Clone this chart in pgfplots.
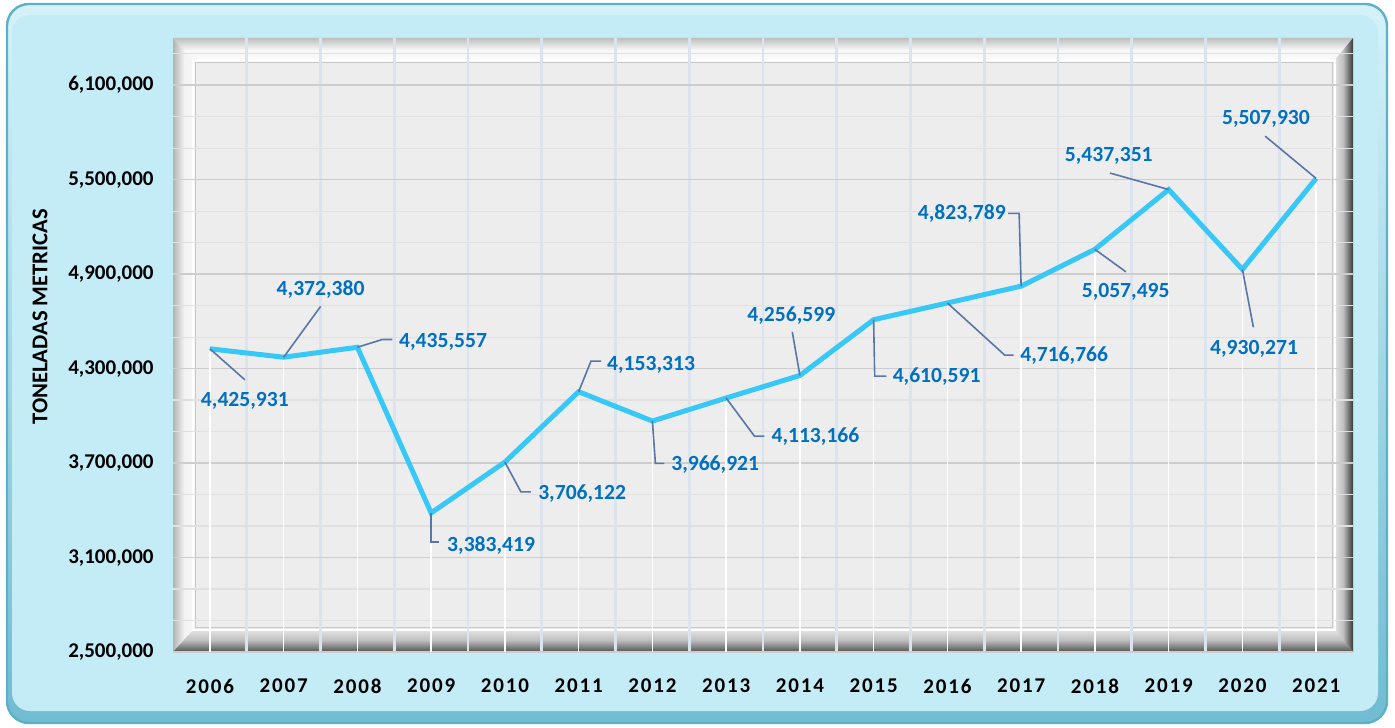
\documentclass[border=0pt]{standalone}
\usepackage{pgfplots}
\pgfplotsset{compat=1.18}
\usepackage{fontspec}
\setmainfont{Carlito}
\newfontfamily\yearfont{Carlito}[LetterSpace=9]
\definecolor{lineblue}{RGB}{56,200,248}
\definecolor{lblblue}{RGB}{0,112,192}
\definecolor{leader}{RGB}{88,118,168}
\definecolor{bgblue}{RGB}{195,236,246}
\definecolor{bgedge}{RGB}{92,176,200}
\definecolor{plotbg}{RGB}{237,237,237}
\definecolor{gridmaj}{RGB}{205,205,205}
\definecolor{gridmin}{RGB}{224,224,224}
\definecolor{vgrid}{RGB}{218,227,238}
\tikzset{lbl/.style={text=lblblue, font=\bfseries\fontsize{10.8}{12}\selectfont, inner sep=0pt, anchor=base, yshift=-3.4pt},
  ldr/.style={draw=leader, line width=0.8pt}}
\begin{document}
\begin{tikzpicture}
\useasboundingbox (0,0) rectangle (697.5pt,363.5pt);
\fill[white] (0,0) rectangle (697.5pt,363.5pt);
% outer frame
\path[top color=bgblue!70!white, bottom color=bgedge!80!bgblue, draw=bgedge, line width=1.2pt, rounded corners=11pt] (3.5pt,2pt) rectangle (693.5pt,361.5pt);
\fill[bgblue, rounded corners=9pt] (6pt,8pt) rectangle (689pt,356pt);
% plot-area bevel
\path[left color=black!30, right color=black!3, middle color=black!5] (86.5pt,344.5pt) -- (86.5pt,37.5pt) -- (97.5pt,49.5pt) -- (97.5pt,332.5pt) -- cycle;
\path[top color=black!25, bottom color=black!2, middle color=black!3] (86.5pt,344.5pt) -- (676.5pt,344.5pt) -- (666.5pt,332.5pt) -- (97.5pt,332.5pt) -- cycle;
\path[left color=black!8, right color=black!78, middle color=black!25] (676.5pt,344.5pt) -- (676.5pt,37.5pt) -- (666.5pt,49.5pt) -- (666.5pt,332.5pt) -- cycle;
\path[top color=black!8, bottom color=black!68, middle color=black!25] (86.5pt,37.5pt) -- (676.5pt,37.5pt) -- (666.5pt,49.5pt) -- (97.5pt,49.5pt) -- cycle;
\fill[plotbg] (97.5pt,49.5pt) rectangle (666.5pt,332.5pt);
\draw[white, line width=0.8pt] (96.5pt,48.5pt) rectangle (667.5pt,333.5pt);
\draw[black!22, line width=0.6pt] (97.8pt,49.8pt) rectangle (666.2pt,332.2pt);
\begin{axis}[
  at={(86.5pt,37.5pt)}, anchor=south west,
  scale only axis, width=590pt, height=307pt,
  xmin=-0.5, xmax=15.5, ymin=2500000, ymax=6400000,
  scaled y ticks=false,
  axis line style={draw=none}, major tick length=0pt, minor tick length=0pt,
  tick style={draw=none},
  xtick={0,...,15},
  xticklabels={2006,2007,2008,2009,2010,2011,2012,2013,2014,2015,2016,2017,2018,2019,2020,2021},
  xticklabel style={font=\yearfont\bfseries\fontsize{10.5}{12}\selectfont, anchor=north, inner sep=0pt},
  xticklabel shift=13.3pt,
  minor xtick={0.5,1.5,...,14.5},
  ytick={2500000,3100000,3700000,4300000,4900000,5500000,6100000},
  yticklabels={{2,500,000},{3,100,000},{3,700,000},{4,300,000},{4,900,000},{5,500,000},{6,100,000}},
  yticklabel style={font=\bfseries\fontsize{10.5}{12}\selectfont, anchor=east, inner sep=0pt},
  yticklabel shift=9.5pt,
  minor ytick={2700000,2900000,3300000,3500000,3900000,4100000,4500000,4700000,5100000,5300000,5700000,5900000,6300000},
  ymajorgrids, yminorgrids, xminorgrids,
  major y grid style={draw=gridmaj, line width=0.8pt},
  minor y grid style={draw=gridmin, line width=0.6pt},
  minor x grid style={draw=vgrid, line width=1.4pt},
  ylabel={TONELADAS METRICAS},
  ylabel style={font=\bfseries\fontsize{11.3}{13}\selectfont, at={(axis description cs:-0.1127,0.546)}, anchor=center, rotate=0},
]
\addplot[white, line width=0.8pt, ycomb] coordinates {
(0,4425931) (1,4372380) (2,4435557) (3,3383419) (4,3706122) (5,4153313) (6,3966921) (7,4113166)
(8,4256599) (9,4610591) (10,4716766) (11,4823789) (12,5057495) (13,5437351) (14,4930271) (15,5507930)};
\addplot[lineblue, line width=2.5pt] coordinates {
(0,4425931) (1,4372380) (2,4435557) (3,3383419) (4,3706122) (5,4153313) (6,3966921) (7,4113166)
(8,4256599) (9,4610591) (10,4716766) (11,4823789) (12,5057495) (13,5437351) (14,4930271) (15,5507930)};
% leaders and labels
\draw[ldr] (axis cs:0,4425931) -- ++(17.5pt,-15.5pt);
\path (axis cs:0,4425931) ++(17.5pt,-25.5pt) node[lbl] {4,425,931};
\draw[ldr] (axis cs:1,4372380) -- ++(18.5pt,25.4pt);
\path (axis cs:1,4372380) ++(18.5pt,34.25pt) node[lbl] {4,372,380};
\draw[ldr] (axis cs:2,4435557) -- ++(12.5pt,3.9pt) -- ++(5pt,0pt);
\path (axis cs:2,4435557) ++(42.85pt,3.05pt) node[lbl] {4,435,557};
\draw[ldr] (axis cs:3,3383419) -- ++(0pt,-14.4pt) -- ++(4pt,0pt);
\path (axis cs:3,3383419) ++(30pt,-16.05pt) node[lbl] {3,383,419};
\draw[ldr] (axis cs:4,3706122) -- ++(8pt,-14.85pt) -- ++(5pt,0pt);
\path (axis cs:4,3706122) ++(38.65pt,-15.5pt) node[lbl] {3,706,122};
\draw[ldr] (axis cs:5,4153313) -- ++(6.2pt,15.3pt) -- ++(5pt,0pt);
\path (axis cs:5,4153313) ++(36.2pt,14.15pt) node[lbl] {4,153,313};
\draw[ldr] (axis cs:6,3966921) -- ++(1.5pt,-21.15pt) -- ++(4.5pt,0pt);
\path (axis cs:6,3966921) ++(31.4pt,-21.15pt) node[lbl] {3,966,921};
\draw[ldr] (axis cs:7,4113166) -- ++(14.15pt,-19.05pt) -- ++(5pt,0pt);
\path (axis cs:7,4113166) ++(44.65pt,-19.05pt) node[lbl] {4,113,166};
\draw[ldr] (axis cs:8,4256599) -- ++(-3.8pt,21.8pt);
\path (axis cs:8,4256599) ++(-4.3pt,30.5pt) node[lbl] {4,256,599};
\draw[ldr] (axis cs:9,4610591) -- ++(0.5pt,-28.2pt) -- ++(5.85pt,0pt);
\path (axis cs:9,4610591) ++(31.5pt,-28.2pt) node[lbl] {4,610,591};
\draw[ldr] (axis cs:10,4716766) -- ++(28.65pt,-26.05pt) -- ++(4.5pt,0pt);
\path (axis cs:10,4716766) ++(58.4pt,-26.05pt) node[lbl] {4,716,766};
\draw[ldr] (axis cs:11,4823789) -- ++(-1pt,36.35pt) -- ++(-5.5pt,0pt);
\path (axis cs:11,4823789) ++(-29.65pt,36.5pt) node[lbl] {4,823,789};
\draw[ldr] (axis cs:12,5057495) -- ++(15.5pt,-11.25pt);
\path (axis cs:12,5057495) ++(15.4pt,-20.9pt) node[lbl] {5,057,495};
\draw[ldr] (axis cs:13,5437351) -- ++(-29.35pt,8.25pt);
\path (axis cs:13,5437351) ++(-29.95pt,17.4pt) node[lbl] {5,437,351};
\draw[ldr] (axis cs:14,4930271) -- ++(5.5pt,-28.95pt);
\path (axis cs:14,4930271) ++(5.85pt,-38.95pt) node[lbl] {4,930,271};
\draw[ldr] (axis cs:15,5507930) -- ++(-25.5pt,21.15pt);
\path (axis cs:15,5507930) ++(-25.1pt,30.5pt) node[lbl] {5,507,930};
\end{axis}
\end{tikzpicture}
\end{document}
